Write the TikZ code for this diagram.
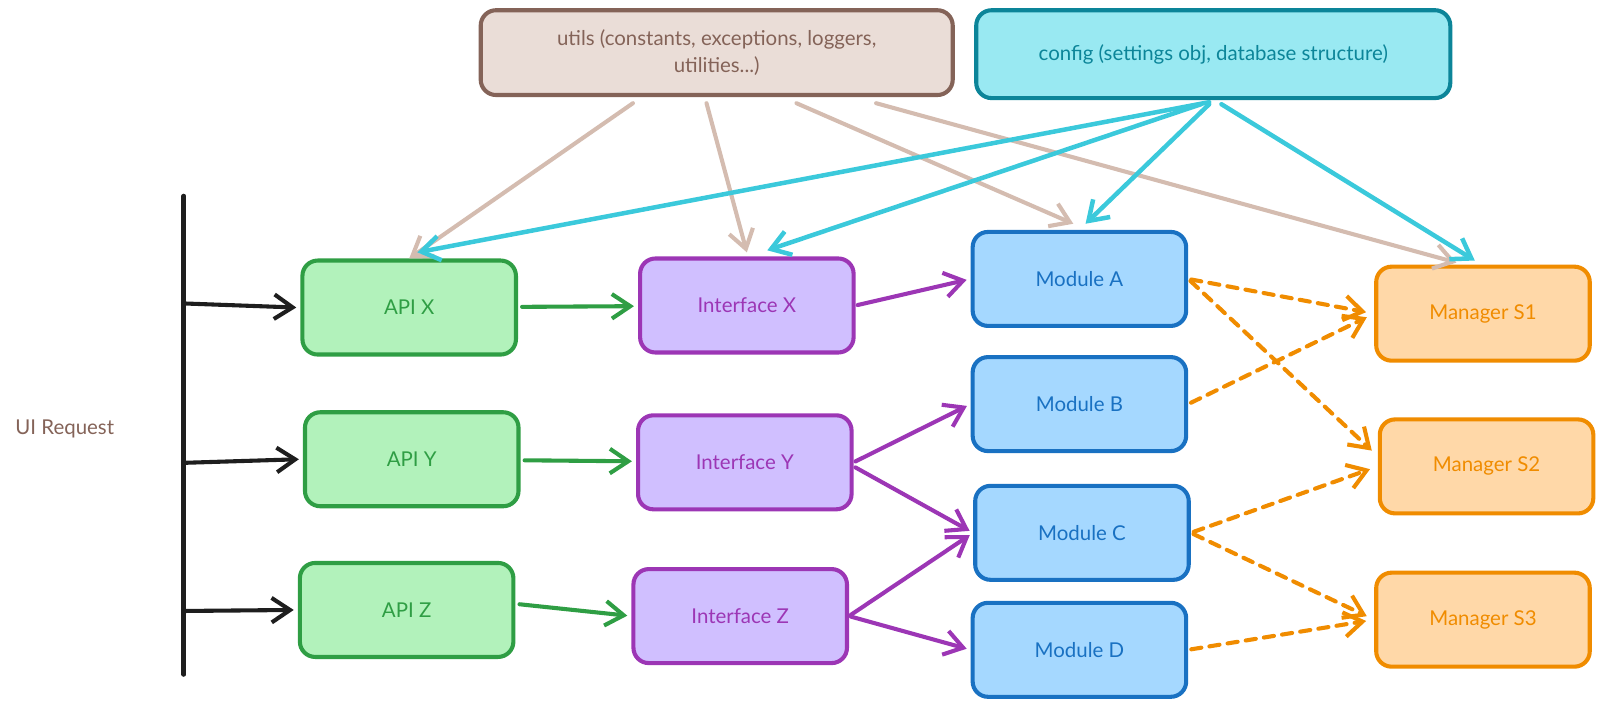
\documentclass[tikz,border=0pt]{standalone}
\usepackage{fontspec}
\setmainfont{Lato}
\usetikzlibrary{arrows.meta}
\definecolor{utilline}{HTML}{846358}
\definecolor{utilfill}{HTML}{EADDD7}
\definecolor{utilarrow}{HTML}{D4BCB0}
\definecolor{cfgline}{HTML}{0C8599}
\definecolor{cfgfill}{HTML}{99E9F2}
\definecolor{cfgarrow}{HTML}{3BC9DB}
\definecolor{apiline}{HTML}{2F9E44}
\definecolor{apifill}{HTML}{B2F2BB}
\definecolor{ifline}{HTML}{9C36B5}
\definecolor{iffill}{HTML}{D0BFFF}
\definecolor{modline}{HTML}{1971C2}
\definecolor{modfill}{HTML}{A5D8FF}
\definecolor{mgrline}{HTML}{F08C00}
\definecolor{mgrfill}{HTML}{FFD8A8}
\definecolor{reqline}{HTML}{1E1E1E}
\tikzset{
    box/.style={rectangle,rounded corners=7.5pt,line width=2pt,minimum width=104.5pt,minimum height=46pt,font=\fontsize{10}{13}\selectfont},
    apibox/.style={box,draw=apiline,fill=apifill,text=apiline},
    ifbox/.style={box,draw=ifline,fill=iffill,text=ifline},
    modbox/.style={box,draw=modline,fill=modfill,text=modline},
    mgrbox/.style={box,draw=mgrline,fill=mgrfill,text=mgrline},
    utilbox/.style={box,draw=utilline,fill=utilfill,text=utilline,minimum width=231pt,minimum height=41.5pt,align=center},
    cfgbox/.style={box,draw=cfgline,fill=cfgfill,text=cfgline,minimum width=232pt,minimum height=43pt},
    tip/.style={->,>={Straight Barb[length=9pt,width=12pt]},line width=2pt,line cap=round},
    reqedge/.style={tip,draw=reqline},
    apiedge/.style={tip,draw=apiline,shorten <=2pt,shorten >=2pt},
    ifedge/.style={tip,draw=ifline,shorten <=1pt,shorten >=2pt},
    mgredge/.style={tip,draw=mgrline,dash pattern=on 5pt off 4pt,shorten <=1.5pt,shorten >=4pt},
    utiledge/.style={tip,draw=utilarrow},
    cfgedge/.style={tip,draw=cfgarrow,line width=2.2pt},
}
\begin{document}
\begin{tikzpicture}[x=0.5pt,y=-0.5pt]
    \useasboundingbox (0,0) rectangle (1568,692);
    % shared layers
    \node[utilbox] (utils) at (701.5,51.5) {utils (constants, exceptions, loggers,\\ utilities...)};
    \node[cfgbox] (config) at (1187.5,53) {config (settings obj, database structure)};
    % request bus
    \node[text=utilline,anchor=west,font=\fontsize{10}{13}\selectfont] (uireq) at (8,420) {UI Request};
    \coordinate (bartop) at (180,192);
    \coordinate (barbot) at (180,660);
    \coordinate (bar1) at (180,297);
    \coordinate (bar2) at (180,453);
    \coordinate (bar3) at (180,598);
    \draw[reqline,line width=2.4pt,line cap=round] (bartop) -- (barbot);
    % apis
    \node[apibox] (apix) at (400.5,301) {API X};
    \node[apibox] (apiy) at (403,449.5) {API Y};
    \node[apibox] (apiz) at (398,597) {API Z};
    % interfaces
    \node[ifbox] (ifx) at (731,299) {Interface X};
    \node[ifbox] (ify) at (729,452.5) {Interface Y};
    \node[ifbox] (ifz) at (724.5,603) {Interface Z};
    % modules
    \node[modbox] (moda) at (1056.5,273) {Module A};
    \node[modbox] (modb) at (1056.5,395.5) {Module B};
    \node[modbox] (modc) at (1059,521.5) {Module C};
    \node[modbox] (modd) at (1056.5,636) {Module D};
    % managers
    \node[mgrbox] (mgrs1) at (1451.5,307) {Manager S1};
    \node[mgrbox] (mgrs2) at (1455,456.5) {Manager S2};
    \node[mgrbox] (mgrs3) at (1451.5,606.5) {Manager S3};
    % requests
    \draw[reqedge] (bar1) -- ([xshift=-2pt]apix.west);
    \draw[reqedge] (bar2) -- ([xshift=-2pt]apiy.west);
    \draw[reqedge] (bar3) -- ([xshift=-2pt]apiz.west);
    \draw[apiedge] (apix) -- (ifx);
    \draw[apiedge] (apiy) -- (ify);
    \draw[apiedge] ([yshift=3pt]apiz.east) -- (ifz.west);
    \draw[ifedge] (ifx.east) -- (moda.west);
    \draw[ifedge] (ify.east) -- (modb.west);
    \draw[ifedge] ([yshift=-2pt]ify.east) -- (modc.west);
    \draw[ifedge] (ifz.east) -- (modc.west);
    \draw[ifedge] (ifz.east) -- (modd.west);
    \draw[mgredge] (moda.east) -- (mgrs1.west);
    \draw[mgredge] (moda.east) -- ([yshift=5pt]mgrs2.west);
    \draw[mgredge] (modb.east) -- (mgrs1.west);
    \draw[mgredge] (modc.east) -- (mgrs2.west);
    \draw[mgredge] (modc.east) -- (mgrs3.west);
    \draw[mgredge] (modd.east) -- (mgrs3.west);
    % utils and config
    \draw[utiledge] ([xshift=-41pt,yshift=-3pt]utils.south) -- (apix.north);
    \draw[utiledge] ([xshift=-5pt,yshift=-3pt]utils.south) -- ([yshift=2pt]ifx.north);
    \draw[utiledge] ([xshift=39pt,yshift=-3pt]utils.south) -- ([xshift=-3pt,yshift=3pt]moda.north);
    \draw[utiledge] ([xshift=78pt,yshift=-3pt]utils.south) -- ([xshift=-13pt,yshift=1pt]mgrs1.north);
    \draw[cfgedge] ([xshift=-2pt,yshift=-1pt]config.south) -- ([xshift=4pt,yshift=3pt]apix.north);
    \draw[cfgedge] ([xshift=-6pt,yshift=-2pt]config.south) -- ([xshift=10pt,yshift=3pt]ifx.north);
    \draw[cfgedge] ([xshift=-2pt,yshift=-2pt]config.south) -- ([xshift=3pt,yshift=3pt]moda.north);
    \draw[cfgedge] ([xshift=4pt,yshift=-2pt]config.south) -- ([xshift=-4pt,yshift=2pt]mgrs1.north);
\end{tikzpicture}
\end{document}
